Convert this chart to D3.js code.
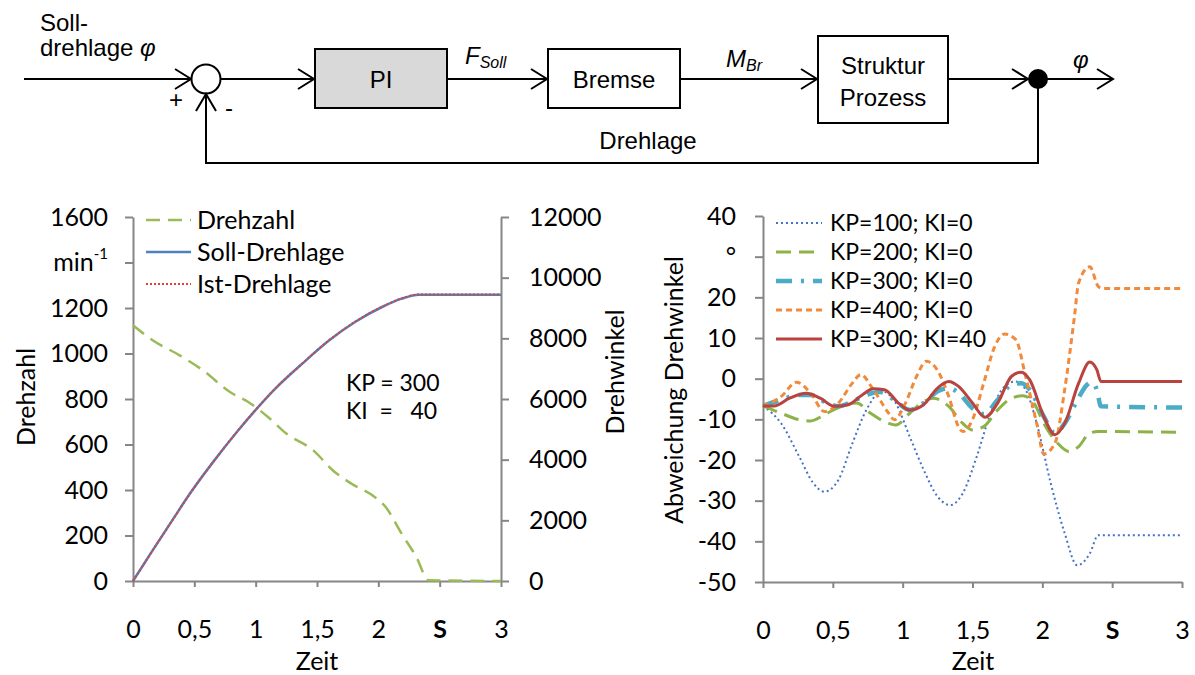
<!DOCTYPE html>
<html>
<head>
<meta charset="utf-8">
<script src="https://cdn.jsdelivr.net/npm/d3@7"></script>
<style>
  body { margin: 0; background: #fff; }
  text { fill: #000; }
</style>
</head>
<body>
<svg id="chart" width="1195" height="675"></svg>
<script>
// ---- data: left chart (Drehzahl / Drehlage over Zeit) ----
const zeitDrehzahl = [0, 0.16, 0.38, 0.57, 0.79, 0.94, 1.10, 1.25, 1.47, 1.63, 1.78, 1.97, 2.06, 2.19, 2.31, 2.41, 3];
const drehzahl = [1124, 1058, 992, 926, 831, 787, 721, 648, 574, 486, 428, 369, 325, 208, 105, 3, 0];

const zeitDrehlage = [0, 0.16, 0.32, 0.47, 0.66, 0.85, 1.0, 1.16, 1.38, 1.6, 1.81, 2.03, 2.19, 2.33, 3];
const sollDrehlage = [0, 1011, 2000, 2915, 3960, 4930, 5640, 6341, 7165, 7934, 8538, 9033, 9308, 9440, 9440];
const istDrehlage = [0, 1005, 1995, 2912, 3958, 4930, 5642, 6345, 7170, 7940, 8545, 9040, 9315, 9445, 9445];

const leftLegend = ["Drehzahl", "Soll-Drehlage", "Ist-Drehlage"];
const xTicks = [0, 0.5, 1, 1.5, 2, 2.5, 3];
const drehzahlTicks = [0, 200, 400, 600, 800, 1000, 1200, 1400, 1600];
const drehwinkelTicks = [0, 2000, 4000, 6000, 8000, 10000, 12000];

// ---- data: right chart (Abweichung Drehwinkel) ----
const zeitKP100 = [0, 0.13, 0.26, 0.36, 0.44, 0.54, 0.64, 0.74, 0.85, 0.95, 1.05, 1.15, 1.25, 1.34, 1.43, 1.53, 1.63, 1.73, 1.81, 1.88, 1.96, 2.06, 2.16, 2.25, 2.34, 2.40, 3];
const kp100 = [-6.7, -11, -19.2, -25.7, -27.8, -24.9, -15.9, -7.7, -3.1, -6, -14.2, -22.4, -29, -31.1, -28.2, -19.2, -8.5, -1.9, -0.7, -2.7, -11, -25.7, -38, -45.9, -43, -38.5, -38.5];

const zeitKP200 = [0, 0.13, 0.26, 0.34, 0.46, 0.59, 0.67, 0.77, 0.9, 0.95, 1.05, 1.15, 1.22, 1.33, 1.43, 1.5, 1.58, 1.68, 1.78, 1.86, 1.94, 2.01, 2.11, 2.19, 2.26, 2.34, 2.4, 3];
const kp200 = [-6.7, -8.5, -10.1, -10.4, -8.5, -6.4, -6, -8.5, -11, -11.4, -8.5, -5.6, -4.8, -6.8, -11, -12.6, -11.8, -7.7, -4.8, -4.2, -6, -11, -15.9, -17.9, -16.7, -13.4, -13, -13.2];

const zeitKP300 = [0, 0.13, 0.26, 0.34, 0.46, 0.54, 0.64, 0.74, 0.84, 0.94, 1.05, 1.15, 1.25, 1.33, 1.40, 1.5, 1.58, 1.68, 1.78, 1.85, 1.91, 2.01, 2.09, 2.16, 2.24, 2.32, 2.35, 2.39, 2.42, 3];
const kp300 = [-6.7, -5.2, -4, -4, -6, -6.8, -5.6, -4, -3.3, -5.2, -7.7, -6, -3.1, -2.3, -3.5, -7.3, -8.7, -5.2, -1.5, -1.1, -2.7, -9.3, -13.4, -11, -6, -1.5, -0.9, -2.7, -6.8, -7.1];

const zeitKP400 = [0, 0.13, 0.24, 0.34, 0.44, 0.54, 0.64, 0.7, 0.79, 0.9, 0.94, 1.02, 1.10, 1.17, 1.25, 1.33, 1.4, 1.43, 1.5, 1.58, 1.66, 1.73, 1.81, 1.88, 1.96, 2.01, 2.09, 2.16, 2.23, 2.26, 2.34, 2.40, 2.43, 3];
const kp400 = [-6.7, -4.4, -0.9, -3.5, -8.1, -6, -1.1, 1, -2.7, -8.5, -10.1, -6, 0.6, 4.3, 2, -4.4, -11.8, -13, -10.1, -1.1, 8, 11, 9.6, 0.6, -11, -18.5, -15.9, -2.7, 15.3, 23.6, 27.5, 22.7, 22.2, 22.2];

const zeitKP300KI40 = [0, 0.08, 0.19, 0.31, 0.41, 0.51, 0.61, 0.71, 0.79, 0.87, 0.97, 1.05, 1.15, 1.25, 1.33, 1.40, 1.50, 1.59, 1.68, 1.78, 1.85, 1.91, 2.01, 2.09, 2.16, 2.26, 2.34, 2.39, 2.42, 3];
const kp300ki40 = [-6.7, -6.7, -4.8, -3.6, -4.8, -6.8, -6.4, -4, -2.5, -2.7, -6, -7.7, -6.4, -2.3, -0.7, -1.9, -6, -9.5, -6, 0.6, 1.6, -0.3, -9.3, -13.8, -11, -1.1, 4.1, 2.2, -0.7, -0.7];

const rightLegend = ["KP=100; KI=0", "KP=200; KI=0", "KP=300; KI=0", "KP=400; KI=0", "KP=300; KI=40"];
const abweichungTicks = [-50, -40, -30, -20, -10, 0, 10, 20, 30, 40];

// ---- setup ----
const svg = d3.select("#chart");
svg.append("rect").attr("width", 1195).attr("height", 675).attr("fill", "#fff");

const blockFont = "'Liberation Sans', Arial, sans-serif";
const chartFont = "Lato, 'Open Sans', sans-serif";
const axisGray = "#868686";

// =================== block diagram ===================
const bd = svg.append("g")
  .attr("font-family", blockFont)
  .attr("font-size", 24)
  .attr("stroke-linecap", "butt");

const stroke = (sel) => sel.attr("fill", "none").attr("stroke", "#000").attr("stroke-width", 2);

function arrowRight(x1, x2, y) {
  stroke(bd.append("line").attr("x1", x1).attr("x2", x2).attr("y1", y).attr("y2", y));
  stroke(bd.append("path").attr("d", d3.line()([[x2 - 16, y - 10], [x2, y], [x2 - 16, y + 10]])));
}

const midY = 79;
arrowRight(24, 191, midY);
arrowRight(221, 314, midY);
arrowRight(447, 547, midY);
arrowRight(680, 817, midY);
arrowRight(948, 1028, midY);
arrowRight(1038, 1113, midY);

// summing point
stroke(bd.append("circle").attr("cx", 206).attr("cy", midY).attr("r", 14.5)).attr("fill", "#fff");
// branch dot
bd.append("circle").attr("cx", 1038).attr("cy", midY).attr("r", 10).attr("fill", "#000");

// feedback path
stroke(bd.append("path").attr("d", d3.line()([[1038, midY], [1038, 163], [206, 163], [206, 94]])));
stroke(bd.append("path").attr("d", d3.line()([[196, 111], [206, 94], [216, 111]])));

// boxes
stroke(bd.append("rect").attr("x", 315).attr("y", 49).attr("width", 132).attr("height", 59)).attr("fill", "#d9d9d9");
stroke(bd.append("rect").attr("x", 548).attr("y", 49).attr("width", 132).attr("height", 59)).attr("fill", "#fff");
stroke(bd.append("rect").attr("x", 818).attr("y", 36).attr("width", 130).attr("height", 87)).attr("fill", "#fff");

bd.append("text").attr("x", 381).attr("y", 88).attr("text-anchor", "middle").text("PI");
bd.append("text").attr("x", 614).attr("y", 88).attr("text-anchor", "middle").text("Bremse");
bd.append("text").attr("x", 883).attr("y", 74).attr("text-anchor", "middle").text("Struktur");
bd.append("text").attr("x", 883).attr("y", 106).attr("text-anchor", "middle").text("Prozess");

bd.append("text").attr("x", 40).attr("y", 31).text("Soll-");
const dl = bd.append("text").attr("x", 40).attr("y", 56);
dl.append("tspan").text("drehlage ");
dl.append("tspan").attr("font-style", "italic").text("φ");

const fs = bd.append("text").attr("x", 465).attr("y", 64).attr("font-style", "italic");
fs.append("tspan").text("F");
fs.append("tspan").attr("font-size", 16).attr("dy", 4).text("Soll");

const mb = bd.append("text").attr("x", 726).attr("y", 67).attr("font-style", "italic");
mb.append("tspan").text("M");
mb.append("tspan").attr("font-size", 16).attr("dy", 4).text("Br");

bd.append("text").attr("x", 1073).attr("y", 68).attr("font-style", "italic").text("φ");
bd.append("text").attr("x", 176).attr("y", 108).attr("text-anchor", "middle").text("+");
bd.append("text").attr("x", 229).attr("y", 116).attr("text-anchor", "middle").text("-");
bd.append("text").attr("x", 648).attr("y", 149).attr("text-anchor", "middle").text("Drehlage");

// =================== shared axis helpers ===================
const fmtComma = (d) => (d === 2.5 ? "S" : String(d).replace(".", ","));

function styleAxis(g) {
  g.attr("font-family", chartFont).attr("font-size", 25);
  g.selectAll(".domain").attr("stroke", axisGray).attr("stroke-width", 2);
  g.selectAll(".tick line").attr("stroke", axisGray).attr("stroke-width", 2);
  g.selectAll(".tick text").attr("fill", "#000");
}

function boldS(g) {
  g.selectAll(".tick text").filter((d) => d === 2.5).attr("font-weight", "bold");
}

function drawLine(g, xs, ys, x, y, color, width, dash) {
  const pts = xs.map((t, i) => [x(t), y(ys[i])]);
  g.append("path")
    .attr("d", d3.line().curve(d3.curveMonotoneX)(pts))
    .attr("fill", "none")
    .attr("stroke", color)
    .attr("stroke-width", width)
    .attr("stroke-dasharray", dash);
}

// =================== left chart ===================
const xL = d3.scaleLinear([0, 3], [133, 501]);
const yL = d3.scaleLinear([0, 1600], [581, 217]);
const yW = d3.scaleLinear([0, 12000], [581, 217]);

const left = svg.append("g");

left.append("g")
  .attr("transform", "translate(0,581)")
  .call(d3.axisBottom(xL).tickValues(xTicks).tickFormat(fmtComma).tickSize(6).tickSizeOuter(0).tickPadding(33))
  .call(styleAxis).call(boldS);

left.append("g")
  .attr("transform", "translate(133,0)")
  .call(d3.axisLeft(yL).tickValues(drehzahlTicks).tickFormat((d) => (d === 1400 ? "" : String(d))).tickSize(8).tickSizeOuter(0).tickPadding(17))
  .call(styleAxis);

left.append("g")
  .attr("transform", "translate(501,0)")
  .call(d3.axisRight(yW).tickValues(drehwinkelTicks).tickFormat((d) => String(d)).tickSize(8).tickSizeOuter(0).tickPadding(20))
  .call(styleAxis);

const unit = left.append("text")
  .attr("font-family", chartFont).attr("font-size", 25)
  .attr("x", 108).attr("y", yL(1400)).attr("dy", "0.32em").attr("text-anchor", "end");
unit.append("tspan").text("min");
unit.append("tspan").attr("font-size", 15).attr("dy", "-0.75em").text("-1");

left.append("text")
  .attr("font-family", chartFont).attr("font-size", 25)
  .attr("transform", "translate(35,397) rotate(-90)").attr("text-anchor", "middle").text("Drehzahl");
left.append("text")
  .attr("font-family", chartFont).attr("font-size", 25)
  .attr("transform", "translate(624,372) rotate(-90)").attr("text-anchor", "middle").text("Drehwinkel");
left.append("text")
  .attr("font-family", chartFont).attr("font-size", 25)
  .attr("x", 317).attr("y", 670).attr("text-anchor", "middle").text("Zeit");

drawLine(left, zeitDrehzahl, drehzahl, xL, yL, "#9bbb59", 2.5, "14,8");
drawLine(left, zeitDrehlage, sollDrehlage, xL, yW, "#4f81bd", 2.5, null);
drawLine(left, zeitDrehlage, istDrehlage, xL, yW, "#e0403a", 2, "2,2");

// parameter note, second line padded with non-breaking spaces to line up the "="
const anno = left.append("g").attr("font-family", chartFont).attr("font-size", 23);
anno.append("text").attr("x", 346).attr("y", 391).text("KP = 300");
anno.append("text").attr("x", 346).attr("y", 419).text("KI\u00A0\u00A0=\u00A0\u00A0 40");

const leftStyles = [
  { color: "#9bbb59", width: 2.5, dash: "14,8" },
  { color: "#4f81bd", width: 2.5, dash: null },
  { color: "#e0403a", width: 2, dash: "2,2" },
];
const legL = left.append("g").attr("font-family", chartFont).attr("font-size", 25);
leftLegend.forEach((name, i) => {
  const y = 220 + i * 32;
  const s = leftStyles[i];
  legL.append("line").attr("x1", 146).attr("x2", 191).attr("y1", y).attr("y2", y)
    .attr("stroke", s.color).attr("stroke-width", s.width).attr("stroke-dasharray", s.dash);
  legL.append("text").attr("x", 197).attr("y", y).attr("dy", "0.35em").text(name);
});

// =================== right chart ===================
const xR = d3.scaleLinear([0, 3], [763, 1182]);
const yA = d3.scaleLinear([-50, 40], [582, 216]);

const right = svg.append("g");

right.append("g")
  .attr("transform", "translate(0,582)")
  .call(d3.axisBottom(xR).tickValues(xTicks).tickFormat(fmtComma).tickSize(6).tickSizeOuter(0).tickPadding(33))
  .call(styleAxis).call(boldS);

right.append("g")
  .attr("transform", "translate(763,0)")
  .call(d3.axisLeft(yA).tickValues(abweichungTicks).tickFormat((d) => (d === 30 ? "°" : String(d))).tickSize(8).tickSizeOuter(0).tickPadding(19))
  .call(styleAxis);

right.append("text")
  .attr("font-family", chartFont).attr("font-size", 25)
  .attr("transform", "translate(683,390) rotate(-90)").attr("text-anchor", "middle").text("Abweichung Drehwinkel");
right.append("text")
  .attr("font-family", chartFont).attr("font-size", 25)
  .attr("x", 973).attr("y", 670).attr("text-anchor", "middle").text("Zeit");

const rightStyles = [
  { color: "#4472c4", width: 2, dash: "2,3" },
  { color: "#8db348", width: 3, dash: "15,8" },
  { color: "#4bacc6", width: 4.5, dash: "16,9,3,9" },
  { color: "#f08a3c", width: 3, dash: "6,4" },
  { color: "#b8433f", width: 3, dash: null },
];
const rightSeries = [
  [zeitKP100, kp100],
  [zeitKP200, kp200],
  [zeitKP300, kp300],
  [zeitKP400, kp400],
  [zeitKP300KI40, kp300ki40],
];
rightSeries.forEach(([xs, ys], i) => {
  const s = rightStyles[i];
  drawLine(right, xs, ys, xR, yA, s.color, s.width, s.dash);
});

const legR = right.append("g").attr("font-family", chartFont).attr("font-size", 23);
rightLegend.forEach((name, i) => {
  const y = 223 + i * 29;
  const s = rightStyles[i];
  legR.append("line").attr("x1", 776).attr("x2", 822).attr("y1", y).attr("y2", y)
    .attr("stroke", s.color).attr("stroke-width", s.width).attr("stroke-dasharray", s.dash);
  legR.append("text").attr("x", 830).attr("y", y).attr("dy", "0.35em").text(name);
});
</script>
</body>
</html>
